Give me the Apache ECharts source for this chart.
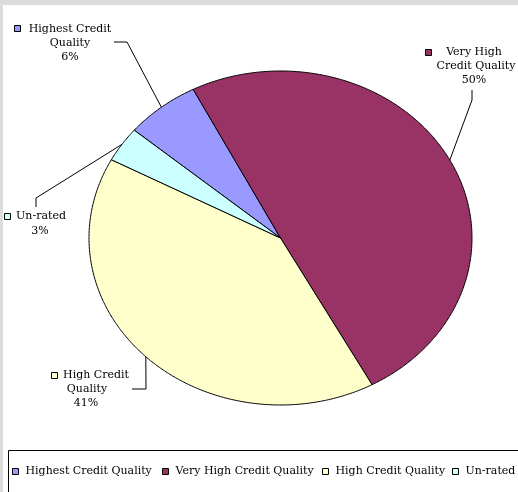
<!DOCTYPE html>
<html><head><meta charset="utf-8">
<script src="https://cdn.jsdelivr.net/npm/echarts@6/dist/echarts.min.js"></script>
<style>html,body{margin:0;padding:0;background:#fff}#c{width:518px;height:492px}</style>
</head><body><div id="c"></div>
<script>
// ---- data ----
const categories = ['Highest Credit Quality', 'Very High Credit Quality', 'High Credit Quality', 'Un-rated'];
const values = [6.3, 49.6, 40.7, 3.4];
const labelLines = [['Highest Credit', 'Quality', '6%'], ['Very High', 'Credit Quality', '50%'], ['Un-rated', '3%'], ['High Credit', 'Quality', '41%']];
const labelIndex = [0, 1, 3, 2]; // labelLines order -> category index

// ---- style / layout ----
const colors = ['#9999FF', '#993366', '#FFFFCC', '#CCFFFF'];
const startAngleDeg = 310.2; // clockwise from 12 o'clock
const FONT = '"DejaVu Serif", "Liberation Serif", serif';
const labelLayout = [
  { marker: [14, 25], lines: [[70, 29], [70, 43], [70, 57]] },
  { marker: [425, 49], lines: [[474, 52], [476, 66], [474, 80]] },
  { marker: [4, 213], lines: [[41, 216], [40, 231]] },
  { marker: [51, 372], lines: [[96, 375], [87, 389], [86, 403]] }
];
// leader elbow points per category index
const leaderPts = [
  [[127, 42], [114, 42]],
  [[472, 100], [472, 90]],
  [[146, 389], [132, 389]],
  [[36, 198], [36, 207]]
];
const legendLeft = [12, 162, 322, 452];

const total = values.reduce((a, b) => a + b, 0);
const cum = [];
let acc = 0;
values.forEach(v => { cum.push([acc / total, (acc + v) / total]); acc += v; });

function makeRender(i) {
  return function (params, api) {
    const a0 = (startAngleDeg / 360 + api.value(0)) * Math.PI * 2;
    const a1 = (startAngleDeg / 360 + api.value(1)) * Math.PI * 2;
    const pts = [api.coord([0, 0])];
    const n = Math.max(2, Math.ceil((a1 - a0) / (Math.PI / 360)));
    for (let k = 0; k <= n; k++) {
      const a = a0 + (a1 - a0) * k / n;
      pts.push(api.coord([Math.sin(a), Math.cos(a)]));
    }
    const am = (a0 + a1) / 2;
    const edge = api.coord([Math.sin(am), Math.cos(am)]);
    return {
      type: 'group',
      children: [
        { type: 'polygon', shape: { points: pts }, style: { fill: colors[i], stroke: '#000', lineWidth: 1 } },
        { type: 'polyline', shape: { points: [edge].concat(leaderPts[i]) }, style: { fill: null, stroke: '#000', lineWidth: 1 } }
      ]
    };
  };
}

const series = categories.map((name, i) => ({
  type: 'custom',
  name: name,
  silent: true,
  clip: false,
  coordinateSystem: 'cartesian2d',
  itemStyle: { color: colors[i], borderColor: '#000', borderWidth: 1 },
  renderItem: makeRender(i),
  data: [cum[i]],
  encode: { x: 0, y: 1 }
}));

const graphic = [
  { type: 'rect', z: -10, shape: { x: 0, y: 0, width: 518, height: 5 }, style: { fill: '#dcdcdc' } },
  { type: 'rect', z: -10, shape: { x: 0, y: 0, width: 3, height: 492 }, style: { fill: '#dcdcdc' } },
  { type: 'rect', z: -5, shape: { x: 8.5, y: 450.5, width: 520, height: 60 }, style: { fill: '#fff', stroke: '#000', lineWidth: 1 } }
];
labelLayout.forEach((L, j) => {
  const ci = labelIndex[j];
  graphic.push({ type: 'rect', z: 10, shape: { x: L.marker[0] + 0.5, y: L.marker[1] + 0.5, width: 6, height: 6 }, style: { fill: colors[ci], stroke: '#000', lineWidth: 1 } });
  labelLines[j].forEach((t, k) => {
    graphic.push({ type: 'text', z: 10, x: L.lines[k][0], y: L.lines[k][1], style: { text: t, font: '11px ' + FONT, fill: '#000', align: 'center', verticalAlign: 'middle' } });
  });
});

const legends = categories.map((name, i) => ({
  data: [name],
  left: legendLeft[i],
  top: 466,
  padding: 0,
  icon: 'rect',
  itemWidth: 6,
  itemHeight: 6,
  selectedMode: false,
  itemStyle: { borderColor: '#000', borderWidth: 1 },
  textStyle: { fontFamily: FONT, fontSize: 11, color: '#000', padding: [0, 0, 0, 2] }
}));

const chart = echarts.init(document.getElementById('c'), null, { renderer: 'canvas' });
chart.setOption({
  animation: false,
  backgroundColor: '#fff',
  grid: { left: 89, top: 71, width: 383, height: 334 },
  xAxis: { type: 'value', min: -1, max: 1, show: false },
  yAxis: { type: 'value', min: -1, max: 1, show: false },
  legend: legends,
  graphic: graphic,
  series: series
});
</script></body></html>
